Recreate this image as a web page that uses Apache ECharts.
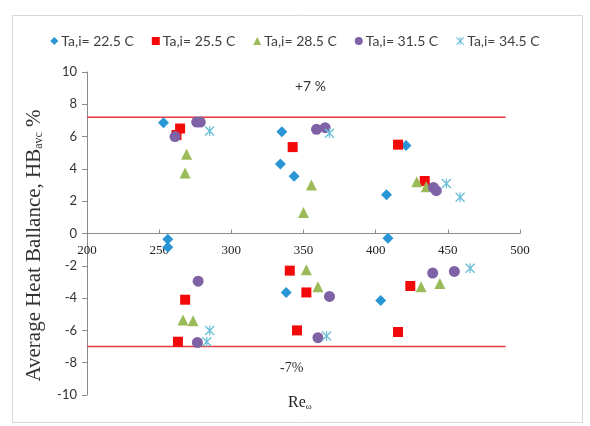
<!DOCTYPE html>
<html>
<head>
<meta charset="utf-8">
<script src="https://cdn.jsdelivr.net/npm/echarts@6/dist/echarts.min.js"></script>
<style>
  html, body { margin: 0; padding: 0; background: #ffffff; }
  #chart { width: 590px; height: 426px; }
</style>
</head>
<body>
<div id="chart"></div>
<script>
// Series labels (inlet air temperature)
const seriesNames = ['Ta,i= 22.5 C', 'Ta,i= 25.5 C', 'Ta,i= 28.5 C', 'Ta,i= 31.5 C', 'Ta,i= 34.5 C'];

// Reynolds number / average heat balance pairs, one pair of arrays per series
const re225 = [253, 256, 256, 335, 334, 343.5, 338, 407.5, 408.5, 421, 403.5];
const hb225 = [6.85, -0.35, -0.85, 6.3, 4.3, 3.55, -3.65, 2.4, -0.3, 5.45, -4.15];

const re255 = [262, 264.5, 342.5, 415.5, 434, 268, 263, 340.5, 345.5, 352, 415.5, 424];
const hb255 = [6.1, 6.5, 5.35, 5.5, 3.25, -4.1, -6.7, -2.3, -6.0, -3.65, -6.1, -3.25];

const re285 = [269, 268, 350, 355.5, 428.5, 435, 266.5, 273.5, 352, 360, 431.5, 444.5];
const hb285 = [4.9, 3.75, 1.3, 3.0, 3.2, 2.9, -5.35, -5.4, -2.25, -3.3, -3.3, -3.1];

const re315 = [261, 276, 278.5, 359, 365, 440, 442, 277, 276.5, 368, 360, 439.5, 454.5];
const hb315 = [6.0, 6.9, 6.9, 6.45, 6.55, 2.85, 2.65, -2.95, -6.75, -3.9, -6.45, -2.45, -2.35];

const re345 = [285, 368, 449, 458.5, 285, 283, 366, 465.5];
const hb345 = [6.35, 6.2, 3.1, 2.25, -6.0, -6.7, -6.35, -2.15];

// Tolerance band limits (%) and the Re range they span
const limitHB = [7.2, -7];
const limitRe = [200, 490];

// Axis ranges
const xTicks = { min: 200, max: 500, interval: 50 };
const yTicks = { min: -10, max: 10, interval: 2 };

const sansFont = 'Lato, "Liberation Sans", sans-serif';
const serifFont = '"Liberation Serif", "DejaVu Serif", serif';

const asteriskPath = 'path://M1,0L5,4L9,0L10,1L6,5L10,9L9,10L5,6L1,10L0,9L4,5L0,1Z M4.4,0L5.6,0L5.6,10L4.4,10Z';

const markerStyles = [
  { symbol: 'diamond', size: 11, color: '#2A95D5' },
  { symbol: 'rect', size: 10, color: '#F20A0A' },
  { symbol: 'triangle', size: 11, color: '#9BBB59' },
  { symbol: 'circle', size: 11, color: '#7E62A5' },
  { symbol: asteriskPath, size: 10, color: '#6CC0D8' }
];

const xs = [re225, re255, re285, re315, re345];
const ys = [hb225, hb255, hb285, hb315, hb345];

function pairs(xArr, yArr) {
  return xArr.map((x, i) => [x, yArr[i]]);
}

const scatterSeries = seriesNames.map((name, k) => ({
  name: name,
  type: 'scatter',
  symbol: markerStyles[k].symbol,
  symbolSize: markerStyles[k].size,
  itemStyle: { color: markerStyles[k].color, opacity: 1 },
  data: pairs(xs[k], ys[k]),
  z: 3 + k
}));

const limitSeries = limitHB.map(v => ({
  type: 'line',
  data: [[limitRe[0], v], [limitRe[1], v]],
  symbol: 'none',
  lineStyle: { color: '#E8373F', width: 1.6 },
  silent: true,
  z: 2
}));

// Plot box; the x axis crosses the y axis at zero (middle of the symmetric range)
const grid = { left: 87, right: 70, top: 72, bottom: 31 };
const plotHeight = 426 - grid.top - grid.bottom;
const zeroShift = plotHeight * (0 - yTicks.min) / (yTicks.max - yTicks.min);

const chart = echarts.init(document.getElementById('chart'), null, { renderer: 'canvas' });

chart.setOption({
  animation: false,
  backgroundColor: '#ffffff',
  grid: Object.assign({ containLabel: false }, grid),
  legend: {
    data: seriesNames.map((n, k) => ({ name: n, icon: markerStyles[k].symbol })),
    top: 29,
    left: 'center',
    itemWidth: 8,
    itemHeight: 8,
    itemGap: 18,
    textStyle: { fontFamily: sansFont, fontSize: 14, color: '#404040', padding: [0, 0, 0, -2] }
  },
  xAxis: {
    type: 'value',
    min: xTicks.min,
    max: xTicks.max,
    interval: xTicks.interval,
    offset: -zeroShift,
    axisLine: { show: true, onZero: false, lineStyle: { color: '#8C8C8C', width: 1 } },
    axisTick: { show: true, inside: true, length: 4, lineStyle: { color: '#8C8C8C' } },
    axisLabel: { fontFamily: serifFont, fontSize: 13, color: '#222222', margin: 11 },
    splitLine: { show: false }
  },
  yAxis: {
    type: 'value',
    min: yTicks.min,
    max: yTicks.max,
    interval: yTicks.interval,
    axisLine: { show: true, lineStyle: { color: '#8C8C8C', width: 1 } },
    axisTick: { show: true, length: 5, lineStyle: { color: '#8C8C8C' } },
    axisLabel: { fontFamily: sansFont, fontSize: 13, color: '#333333', margin: 10 },
    splitLine: { show: false },
    name: 'Average Heat Ballance, HB{sub|avc} %',
    nameLocation: 'middle',
    nameRotate: 90,
    nameGap: 42,
    nameTextStyle: {
      fontFamily: serifFont, fontSize: 21, color: '#333333',
      padding: [0, 24, 0, 0],
      rich: { sub: { fontFamily: serifFont, fontSize: 12, color: '#333333', verticalAlign: 'bottom', padding: [10, 0, 0, 0] } }
    }
  },
  graphic: [
    {
      type: 'rect', left: 10, top: 13, silent: true, z: -10,
      shape: { width: 570, height: 407 },
      style: { fill: 'none', stroke: '#D6D6D6', lineWidth: 1 }
    },
    {
      type: 'text', left: 295, top: 79, silent: true,
      style: { text: '+7 %', font: '14px ' + sansFont, fill: '#333333' }
    },
    {
      type: 'text', left: 280, top: 361, silent: true,
      style: { text: '-7%', font: '14px ' + serifFont, fill: '#333333' }
    },
    {
      type: 'text', left: 288, top: 395, silent: true,
      style: {
        text: 'Re{sub|ω}',
        font: '16px ' + serifFont, fill: '#222222',
        rich: { sub: { font: '9px ' + serifFont, fill: '#222222', verticalAlign: 'bottom', padding: [8, 0, 0, 0] } }
      }
    }
  ],
  series: limitSeries.concat(scatterSeries)
});
</script>
</body>
</html>
